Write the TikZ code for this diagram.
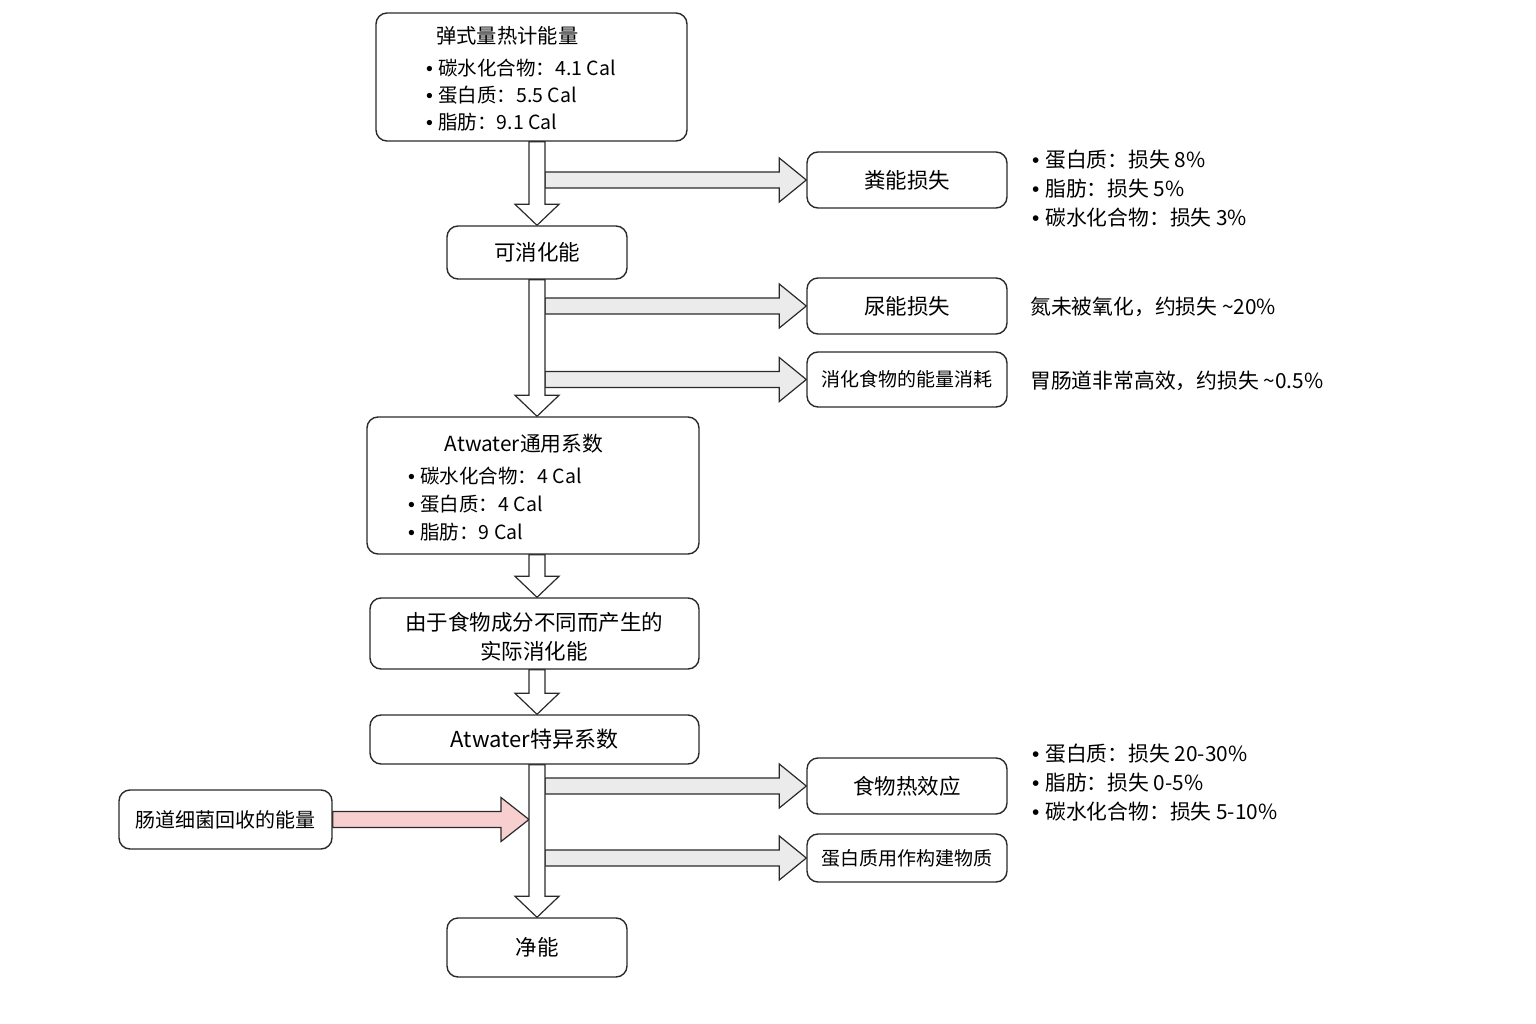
\documentclass[tikz,border=0pt]{standalone}
\usepackage{fontspec}
\setmainfont{Noto Sans CJK SC}
\newfontfamily\latinfont{Liberation Sans}
\usetikzlibrary{calc,backgrounds}
\definecolor{edge}{HTML}{2A2A2A}
\definecolor{shaftgray}{HTML}{EBEBEB}
\definecolor{pinkfill}{HTML}{F8CFCF}
\newcommand\bu{{\latinfont •\ }}
\tikzset{
  box/.style={draw=edge, line width=1.4pt, rounded corners=11pt, fill=white, inner sep=0pt, align=center},
  big/.style={font=\fontsize{21.5}{26}\selectfont},
  small/.style={font=\fontsize{19}{23}\selectfont},
  bul/.style={font=\fontsize{19.5}{24}\selectfont, anchor=west, inner sep=0pt},
  note/.style={font=\fontsize{20.8}{24}\selectfont, anchor=west, inner sep=0pt},
  flowv/.style={draw=edge, line width=1.2pt, fill=white, line join=miter},
  flowh/.style={draw=edge, line width=1.2pt, fill=shaftgray, line join=miter},
  flowp/.style={draw=edge, line width=1.2pt, fill=pinkfill, line join=miter},
}
\newcommand\vflow[2]{%
  \draw[flowv] ($(#1.south -| spine)+(-8,0)$) -- ($(#2.north -| spine)+(-8,-21)$) -- ++(-14,0)
    -- (#2.north -| spine) -- ($(#2.north -| spine)+(22,-21)$) -- ++(-14,0)
    -- ($(#1.south -| spine)+(8,0)$) -- cycle;}
\newcommand\hflow[1]{%
  \draw[flowh] ($(#1.west -| spine)+(8,-8)$) -- ($(#1.west)+(-27,-8)$) -- ++(0,-14)
    -- (#1.west) -- ($(#1.west)+(-27,22)$) -- ++(0,-14)
    -- ($(#1.west -| spine)+(8,8)$) -- cycle;}
\begin{document}
\begin{tikzpicture}[x=1pt,y=-1pt]
\useasboundingbox (0,0) rectangle (1536,1024);
\coordinate (spine) at (537,0);

% main column
\node[box, minimum width=311pt, minimum height=128pt] (b1) at (531.5,77) {};
\node[anchor=west, inner sep=0pt, font=\fontsize{20.3}{24}\selectfont] (b1t) at (436,36) {弹式量热计能量};
\node[bul] (b1a) at (426,68) {\bu 碳水化合物：4.1 Cal};
\node[bul] (b1b) at (426,95) {\bu 蛋白质：5.5 Cal};
\node[bul] (b1c) at (426,122) {\bu 脂肪：9.1 Cal};

\node[box, big, minimum width=180pt, minimum height=53pt] (b2) at (537,252.5) {可消化能};

\node[box, minimum width=332pt, minimum height=137pt] (b3) at (533,485.5) {};
\node[anchor=center, inner sep=0pt, font=\fontsize{20.8}{24}\selectfont] (b3t) at (524,444) {Atwater通用系数};
\node[bul] (b3a) at (408,476) {\bu 碳水化合物：4 Cal};
\node[bul] (b3b) at (408,504) {\bu 蛋白质：4 Cal};
\node[bul] (b3c) at (408,532) {\bu 脂肪：9 Cal};

\node[box, minimum width=329pt, minimum height=71pt] (b4) at (534.5,633.5) {};
\node[inner sep=0pt, align=center, font=\fontsize{21.5}{29}\selectfont] (b4t) at (534,637) {由于食物成分不同而产生的\\实际消化能};
\node[box, font=\fontsize{22}{26}\selectfont, minimum width=329pt, minimum height=49pt] (b5) at (534.5,739.5) {Atwater特异系数};
\node[box, big, minimum width=180pt, minimum height=59pt] (b6) at (537,947.5) {净能};

% side boxes
\node[box, big, minimum width=200pt, minimum height=56pt] (l1) at (907,180) {粪能损失};
\node[box, big, minimum width=200pt, minimum height=56pt] (l2) at (907,306) {尿能损失};
\node[box, small, minimum width=200pt, minimum height=55pt] (l3) at (907,379.5) {消化食物的能量消耗};
\node[box, big, minimum width=200pt, minimum height=56pt] (l4) at (907,786) {食物热效应};
\node[box, small, minimum width=200pt, minimum height=48pt] (l5) at (907,858) {蛋白质用作构建物质};
\node[box, font=\fontsize{20}{24}\selectfont, minimum width=213pt, minimum height=59pt] (g) at (225.5,819.5) {肠道细菌回收的能量};

% side notes
\node[note] (n1a) at (1032,160) {\bu 蛋白质：损失 8\%};
\node[note] (n1b) at (1032,189) {\bu 脂肪：损失 5\%};
\node[note] (n1c) at (1032,218) {\bu 碳水化合物：损失 3\%};
\node[note] (n2) at (1030,307) {氮未被氧化，约损失 \textasciitilde20\%};
\node[note] (n3) at (1030,381) {胃肠道非常高效，约损失 \textasciitilde0.5\%};
\node[note] (n4a) at (1032,754) {\bu 蛋白质：损失 20-30\%};
\node[note] (n4b) at (1032,783) {\bu 脂肪：损失 0-5\%};
\node[note] (n4c) at (1032,812) {\bu 碳水化合物：损失 5-10\%};

% arrows
\begin{scope}[on background layer]
\hflow{l1}
\hflow{l2}
\hflow{l3}
\hflow{l4}
\hflow{l5}
\draw[flowp] ($(g.east)+(0,-8)$) -- ($(g.east -| spine)+(-36,-8)$) -- ++(0,-14)
  -- ($(g.east -| spine)+(-8,0)$) -- ($(g.east -| spine)+(-36,22)$) -- ++(0,-14)
  -- ($(g.east)+(0,8)$) -- cycle;
\vflow{b1}{b2}
\vflow{b2}{b3}
\vflow{b3}{b4}
\vflow{b4}{b5}
\vflow{b5}{b6}
\end{scope}
\end{tikzpicture}
\end{document}
